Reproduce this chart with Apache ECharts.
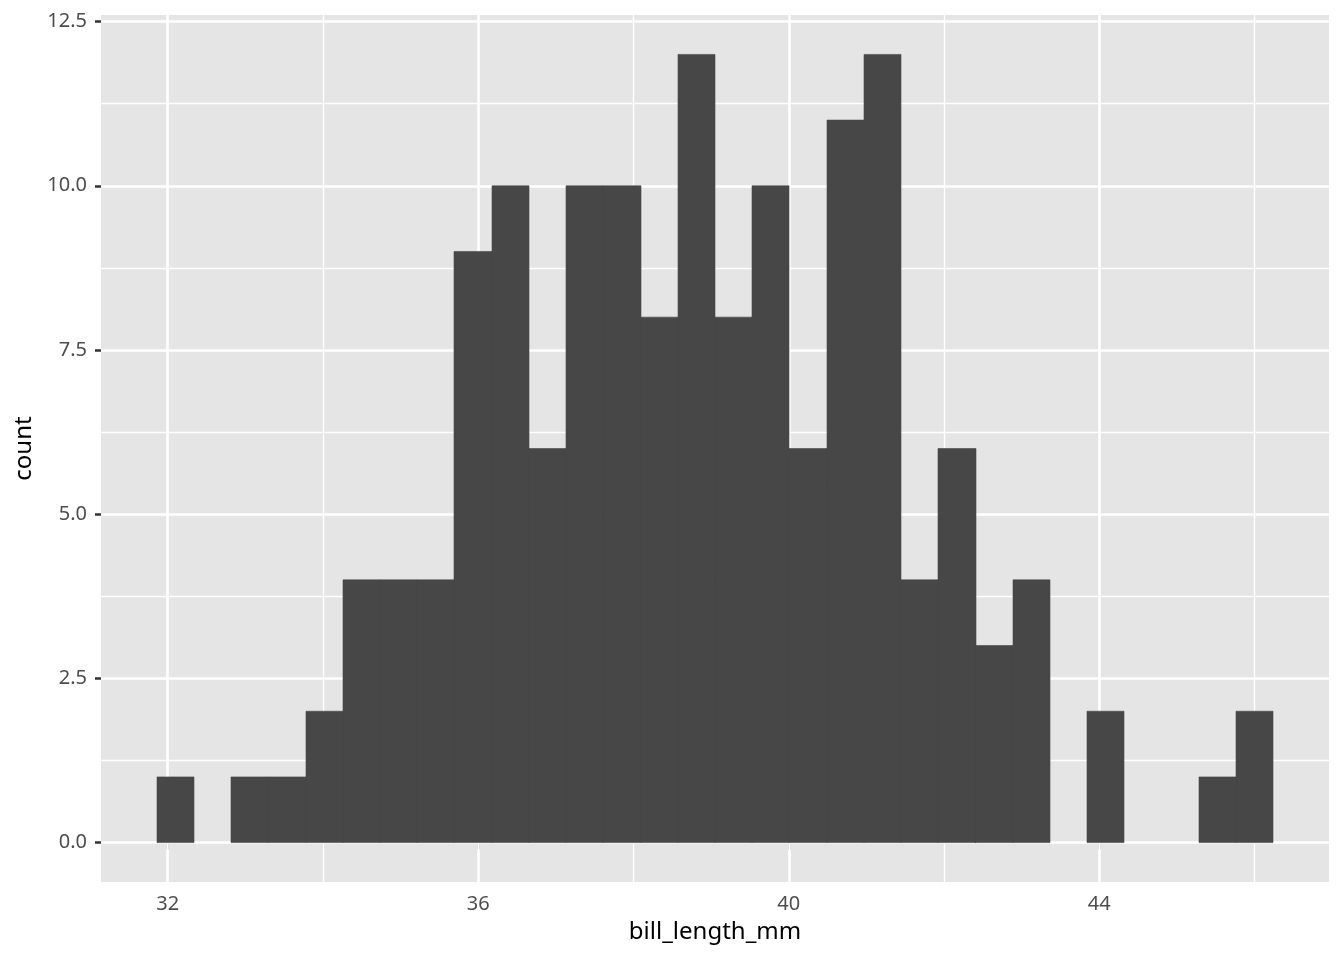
<!DOCTYPE html>
<html>
<head>
<meta charset="utf-8">
<script src="https://cdn.jsdelivr.net/npm/echarts@6/dist/echarts.min.js"></script>
<style>
html,body{margin:0;padding:0;background:#fff;}
#chart{width:1344px;height:960px;}
</style>
</head>
<body>
<div id="chart"></div>
<script>
// Histogram bins (bill_length_mm, 30 bins)
const binCenters = [32.1, 32.579, 33.059, 33.538, 34.017, 34.497, 34.976, 35.455, 35.934, 36.414,
  36.893, 37.372, 37.852, 38.331, 38.810, 39.290, 39.769, 40.248, 40.728, 41.207,
  41.686, 42.166, 42.645, 43.124, 43.603, 44.083, 44.562, 45.041, 45.521, 46.0];
const counts = [1, 0, 1, 1, 2, 4, 4, 4, 9, 10,
  6, 10, 10, 8, 12, 8, 10, 6, 11, 12,
  4, 6, 3, 4, 0, 2, 0, 0, 1, 2];
const binWidth = 0.47931;

const xTicks = [32, 36, 40, 44];
const xMinor = [34, 38, 42, 46];
const yTicks = [0, 2.5, 5, 7.5, 10, 12.5];
const yMinor = [1.25, 3.75, 6.25, 8.75, 11.25];
const yTickLabels = ['0.0', '2.5', '5.0', '7.5', '10.0', '12.5'];

const xMin = 31.1414, xMax = 46.9587;
const yMin = -0.6, yMax = 12.6;

const FONT = 'Noto Sans';
const data = binCenters.map((c, i) => [c, counts[i]]);

const gridLines = [];
xTicks.forEach(v => gridLines.push({xAxis: v, lineStyle: {width: 2.6}}));
xMinor.forEach(v => gridLines.push({xAxis: v, lineStyle: {width: 1.4}}));
yTicks.forEach(v => gridLines.push({yAxis: v, lineStyle: {width: 2.6}}));
yMinor.forEach(v => gridLines.push({yAxis: v, lineStyle: {width: 1.4}}));

const chart = echarts.init(document.getElementById('chart'), null, {renderer: 'canvas'});
chart.setOption({
  animation: false,
  backgroundColor: '#ffffff',
  textStyle: {fontFamily: FONT},
  grid: {
    left: 101, right: 15, top: 15, bottom: 78,
    show: true, backgroundColor: '#E5E5E5', borderWidth: 0
  },
  xAxis: {
    type: 'value', min: xMin, max: xMax,
    name: 'bill_length_mm', nameLocation: 'middle', nameGap: 38,
    nameTextStyle: {fontSize: 24, color: '#000000', fontFamily: FONT},
    axisLine: {show: false},
    splitLine: {show: false},
    axisTick: {show: true, customValues: xTicks, length: 7, lineStyle: {color: '#333333', width: 2.5}},
    axisLabel: {customValues: xTicks, fontSize: 20, color: '#4D4D4D', margin: 12, fontFamily: FONT}
  },
  yAxis: {
    type: 'value', min: yMin, max: yMax,
    name: 'count', nameLocation: 'middle', nameGap: 64, nameRotate: 90,
    nameTextStyle: {fontSize: 24, color: '#000000', fontFamily: FONT},
    axisLine: {show: false},
    splitLine: {show: false},
    axisTick: {show: true, customValues: yTicks, length: 6, lineStyle: {color: '#333333', width: 2.5}},
    axisLabel: {
      customValues: yTicks, fontSize: 20, color: '#4D4D4D', margin: 14, fontFamily: FONT,
      formatter: v => yTickLabels[yTicks.indexOf(v)] ?? String(v)
    }
  },
  series: [{
    type: 'custom',
    z: 2,
    data: data,
    encode: {x: 0, y: 1},
    renderItem: function (params, api) {
      const c = api.value(0), h = api.value(1);
      if (!h) return null;
      const p0 = api.coord([c - binWidth / 2, h]);
      const p1 = api.coord([c + binWidth / 2, 0]);
      const x0 = Math.round(p0[0]), x1 = Math.round(p1[0]);
      return {
        type: 'rect',
        shape: {x: x0, y: p0[1], width: x1 - x0, height: p1[1] - p0[1]},
        style: {fill: '#474747', stroke: '#474747', lineWidth: 0.6}
      };
    },
    markLine: {
      silent: true, z: 1, animation: false,
      symbol: ['none', 'none'],
      label: {show: false},
      lineStyle: {color: '#ffffff', type: 'solid'},
      emphasis: {disabled: true},
      data: gridLines
    }
  }]
});
</script>
</body>
</html>
